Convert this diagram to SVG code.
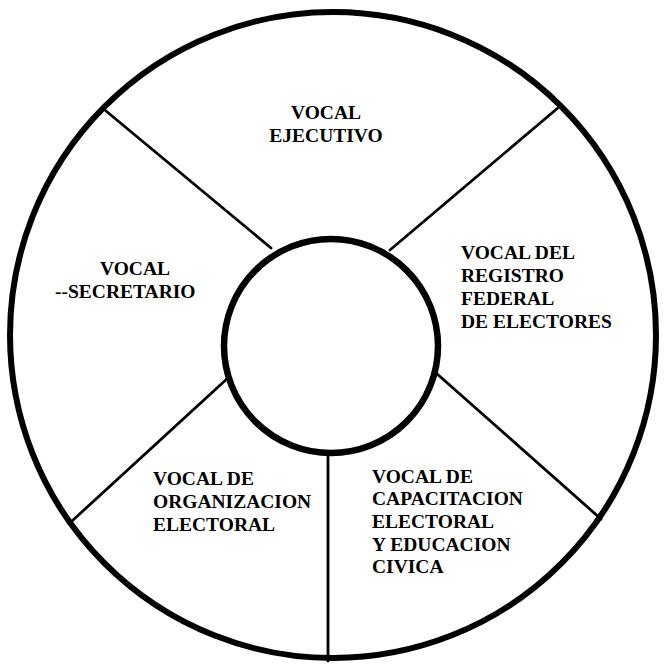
<svg xmlns="http://www.w3.org/2000/svg" width="664" height="666" viewBox="0 0 664 666">
  <style>
    .ring { fill: none; stroke: #000; stroke-width: 6; }
    .hub { fill: #fff; stroke: #000; stroke-width: 6.5; }
    .spoke { stroke: #000; stroke-width: 2.8; stroke-linecap: round; }
    .label { font-family: "Liberation Serif", "Times New Roman", serif; font-weight: bold; font-size: 19.5px; fill: #000; }
  </style>
  <rect width="664" height="666" fill="#fff"/>

  <!-- outer ring -->
  <circle id="ring" class="ring" cx="333" cy="335" r="323"/>

  <!-- spokes between the ring and the hub -->
  <g id="connectors">
    <line class="spoke" x1="106" y1="111" x2="271" y2="248"/>
    <line class="spoke" x1="559" y1="107" x2="390" y2="250"/>
    <line class="spoke" x1="601" y1="519" x2="436" y2="373"/>
    <line class="spoke" x1="72" y1="521" x2="229" y2="377"/>
    <line class="spoke" x1="328" y1="455" x2="328" y2="661"/>
  </g>

  <!-- central hub -->
  <g id="hub">
    <circle class="hub" cx="331" cy="346" r="107"/>
  </g>

  <g id="vocal-ejecutivo">
    <text class="label" text-anchor="middle" x="326" y="119">VOCAL</text>
    <text class="label" text-anchor="middle" x="326" y="142">EJECUTIVO</text>
  </g>

  <g id="vocal-secretario">
    <text class="label" x="100" y="275">VOCAL</text>
    <text class="label" x="55" y="298">--SECRETARIO</text>
  </g>

  <g id="vocal-registro">
    <text class="label" x="461" y="259">VOCAL DEL</text>
    <text class="label" x="461" y="282">REGISTRO</text>
    <text class="label" x="461" y="305">FEDERAL</text>
    <text class="label" x="461" y="328">DE ELECTORES</text>
  </g>

  <g id="vocal-organizacion">
    <text class="label" x="153" y="485">VOCAL DE</text>
    <text class="label" x="153" y="508">ORGANIZACION</text>
    <text class="label" x="153" y="531">ELECTORAL</text>
  </g>

  <g id="vocal-capacitacion">
    <text class="label" x="372" y="483">VOCAL DE</text>
    <text class="label" x="372" y="505">CAPACITACION</text>
    <text class="label" x="372" y="528">ELECTORAL</text>
    <text class="label" x="372" y="551">Y EDUCACION</text>
    <text class="label" x="372" y="573">CIVICA</text>
  </g>
</svg>
